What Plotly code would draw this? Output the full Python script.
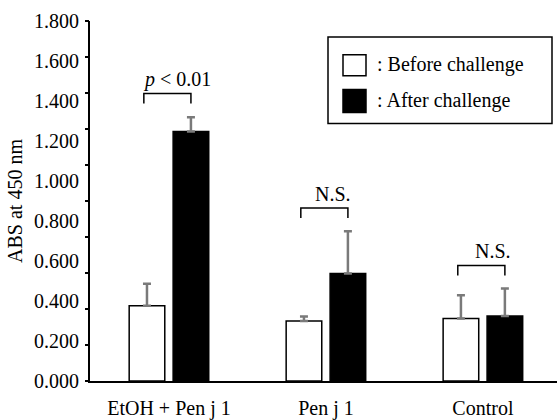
import plotly.graph_objects as go

# ---- data ----
categories = ["EtOH + Pen j 1", "Pen j 1", "Control"]
before_vals = [0.376, 0.300, 0.313]
before_err = [0.110, 0.022, 0.116]
after_vals = [1.247, 0.537, 0.325]
after_err = [0.072, 0.212, 0.137]
series_names = [": Before challenge", ": After challenge"]
y_label_vals = [0.0, 0.2, 0.4, 0.6, 0.8, 1.0, 1.2, 1.4, 1.6, 1.8]
y_label_text = ["0.000", "0.200", "0.400", "0.600", "0.800", "1.000", "1.200", "1.400", "1.600", "1.800"]
y_mark_vals = [i * 0.18 for i in range(11)]
sig_text = ["<i>p</i> < 0.01", "N.S.", "N.S."]
sig_bracket_top = [1.437, 0.865, 0.577]
sig_text_y = [1.507, 0.935, 0.651]
sig_text_dx = [0.05, 0.045, 0.064]

FONT = "Liberation Serif"
W, H = 557, 420
L, R, T, B = 90, 0, 21, 37
ERR_COLOR = "#7a7a7a"
TXT = dict(family=FONT, size=20, color="black")

fig = go.Figure()
fig.add_trace(go.Bar(
    x=categories, y=before_vals, name=series_names[0],
    marker=dict(color="white", line=dict(color="black", width=1.5)),
    error_y=dict(type="data", symmetric=False, array=before_err,
                 arrayminus=[0] * len(before_err), color=ERR_COLOR,
                 thickness=2.5, width=4),
    showlegend=False,
))
fig.add_trace(go.Bar(
    x=categories, y=after_vals, name=series_names[1],
    marker=dict(color="black", line=dict(color="black", width=1.5)),
    error_y=dict(type="data", symmetric=False, array=after_err,
                 arrayminus=[0] * len(after_err), color=ERR_COLOR,
                 thickness=2.5, width=4),
    showlegend=False,
))

# invisible helper trace for the tick-mark axis
fig.add_trace(go.Scatter(x=[categories[0]], y=[0], yaxis="y2", mode="markers",
                         marker=dict(opacity=0), hoverinfo="skip", showlegend=False))

offset = 0.14
shapes = []
annotations = []
leg = 0.05
for i, cat in enumerate(categories):
    x0, x1 = i - offset - 0.02, i + offset
    top = sig_bracket_top[i]
    shapes.append(dict(type="path", xref="x", yref="y",
                       path=f"M {x0} {top-leg} L {x0} {top} L {x1} {top} L {x1} {top-leg}",
                       line=dict(color="black", width=1.5)))
    annotations.append(dict(x=i + sig_text_dx[i], y=sig_text_y[i], xref="x", yref="y",
                            text=sig_text[i], showarrow=False, font=TXT))

# manual legend (pixel -> paper conversion)
pw, ph = W - L - R, H - T - B
def px(x):
    return (x - L) / pw
def py(y):
    return 1 - (y - T) / ph

shapes.append(dict(type="rect", xref="paper", yref="paper",
                   x0=px(328), x1=px(552), y0=py(124), y1=py(37),
                   line=dict(color="black", width=1.5), fillcolor="white", layer="above"))
shapes.append(dict(type="rect", xref="paper", yref="paper",
                   x0=px(343), x1=px(366), y0=py(76), y1=py(55),
                   line=dict(color="black", width=1.5), fillcolor="white", layer="above"))
shapes.append(dict(type="rect", xref="paper", yref="paper",
                   x0=px(343), x1=px(366), y0=py(113), y1=py(90),
                   line=dict(color="black", width=1.5), fillcolor="black", layer="above"))
for name, yc in zip(series_names, [65, 101]):
    annotations.append(dict(x=px(375), y=py(yc), xref="paper", yref="paper",
                            xanchor="left", yanchor="middle", text=name, showarrow=False,
                            font=TXT))

fig.update_layout(
    width=W, height=H,
    margin=dict(l=L, r=R, t=T, b=B, pad=0),
    paper_bgcolor="white", plot_bgcolor="white",
    barmode="group", bargap=0.44, bargroupgap=0.19,
    font=TXT,
    xaxis=dict(type="category", range=[-0.503, 2.472], showline=True,
               linecolor="black", linewidth=2, ticks="", showgrid=False,
               zeroline=False, tickfont=TXT, ticklabelstandoff=8),
    yaxis=dict(range=[0, 1.8], tickvals=y_label_vals, ticktext=y_label_text,
               ticks="", showline=True, linecolor="black", linewidth=2,
               showgrid=False, zeroline=False, ticklabelstandoff=5,
               tickfont=TXT,
               title=dict(text="ABS at 450 nm", standoff=6, font=TXT)),
    yaxis2=dict(range=[0, 1.8], overlaying="y", side="left", tickvals=y_mark_vals,
                ticks="outside", ticklen=4, tickwidth=2, tickcolor="black",
                showticklabels=False, showgrid=False, zeroline=False, showline=False),
    shapes=shapes,
    annotations=annotations,
)

fig.write_html("out.html")
